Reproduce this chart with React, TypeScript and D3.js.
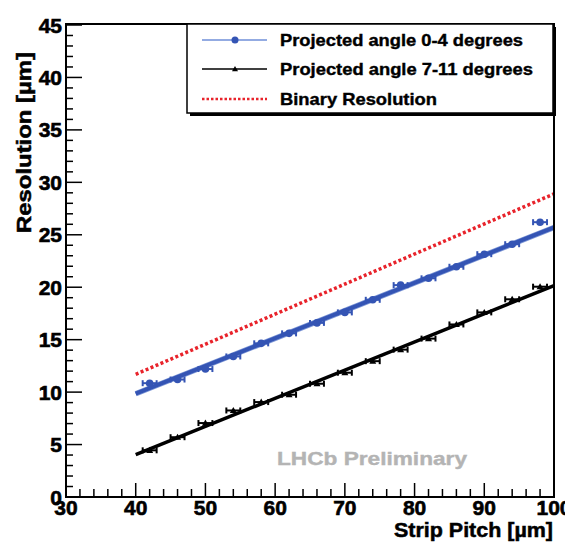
import React from "react";
import * as d3 from "d3";

const W = 565;
const H = 546;

// Strip pitch [µm] of the measured points
const pitch = [42, 46, 50, 54, 58, 62, 66, 70, 74, 78, 82, 86, 90, 94, 98];
const pitchErr = [1, 1, 1, 1, 1, 1, 1, 1, 1, 1, 1, 1, 1, 1, 1];
// Projected angle 0-4 degrees
const resLow = [10.85, 11.2, 12.2, 13.4, 14.65, 15.6, 16.6, 17.6, 18.8, 20.2, 20.85, 21.95, 23.15, 24.1, 26.2];
// Projected angle 7-11 degrees
const resHigh = [4.45, 5.7, 7.05, 8.25, 9.05, 9.75, 10.8, 11.85, 12.95, 14.05, 15.1, 16.45, 17.6, 18.85, 20.05];
// Fit lines (pitch, resolution)
const fitLowX = [40, 100];
const fitLowY = [9.85, 25.7];
const fitHighX = [40, 100];
const fitHighY = [4.05, 20.15];
// Binary resolution
const binaryX = [40, 100];
const binaryY = [11.7, 28.9];

const xTicks = [30, 40, 50, 60, 70, 80, 90, 100];
const yTicks = [0, 5, 10, 15, 20, 25, 30, 35, 40, 45];
const legendLabels = [
  "Projected angle 0-4 degrees",
  "Projected angle 7-11 degrees",
  "Binary Resolution",
];

const FONT = "'Liberation Sans', Arial, Helvetica, sans-serif";
const BLUE = "#3454b4";
const BLUE_HALO = "#7f98d6";
const RED = "#e8232b";

export default function App() {
  const left = 66, right = 554, top = 25, bottom = 497;
  const x = d3.scaleLinear().domain([30, 100]).range([left, right]);
  const y = d3.scaleLinear().domain([0, 45]).range([bottom, top]);
  const line = d3
    .line<[number, number]>()
    .x((d) => x(d[0]))
    .y((d) => y(d[1]));

  const zip = (a: number[], b: number[]) => a.map((v, i) => [v, b[i]] as [number, number]);

  const yMinor = d3.range(0, 46, 1);
  const xMinor = d3.range(30, 101, 2);

  const errBars = (vals: number[], color: string) =>
    pitch.map((p, i) => {
      const x0 = x(p - pitchErr[i]);
      const x1 = x(p + pitchErr[i]);
      const yy = y(vals[i]);
      return (
        <g key={`e${i}`} stroke={color} strokeWidth={2}>
          <line x1={x0} x2={x1} y1={yy} y2={yy} />
          <line x1={x0} x2={x0} y1={yy - 3} y2={yy + 3} />
          <line x1={x1} x2={x1} y1={yy - 3} y2={yy + 3} />
        </g>
      );
    });

  const tri = (cx: number, cy: number, s: number) =>
    `M${cx},${cy - s} L${cx + s},${cy + s * 0.75} L${cx - s},${cy + s * 0.75} Z`;

  const legX0 = 187, legY0 = 24, legW = 366, legH = 89;
  const rows = [40, 69, 99];

  return (
    <svg
      width={W}
      height={H}
      style={{ position: "absolute", left: 0, top: 0, background: "#fff" }}
      fontFamily={FONT}
      fontWeight="bold"
    >
      <rect x={0} y={0} width={W} height={H} fill="#fff" />

      {/* LHCb Preliminary */}
      <text x={277} y={465} fontSize={19} fill="#b4b4b4" stroke="#b4b4b4" strokeWidth={0.4} textLength={190} lengthAdjust="spacingAndGlyphs">
        LHCb Preliminary
      </text>

      {/* Binary resolution */}
      <path d={line(zip(binaryX, binaryY)) || ""} fill="none" stroke={RED} strokeWidth={3.5} strokeDasharray="3,2.4" />

      {/* fits */}
      <path d={line(zip(fitLowX, fitLowY)) || ""} fill="none" stroke={BLUE_HALO} strokeWidth={5.5} />
      <path d={line(zip(fitLowX, fitLowY)) || ""} fill="none" stroke={BLUE} strokeWidth={4} />
      <path d={line(zip(fitHighX, fitHighY)) || ""} fill="none" stroke="#000" strokeWidth={3.5} />

      {/* points */}
      {errBars(resLow, BLUE)}
      {pitch.map((p, i) => (
        <circle key={`b${i}`} cx={x(p)} cy={y(resLow[i])} r={3.8} fill={BLUE} />
      ))}
      {errBars(resHigh, "#000")}
      {pitch.map((p, i) => (
        <path key={`t${i}`} d={tri(x(p), y(resHigh[i]), 3.5)} fill="#000" />
      ))}

      {/* frame */}
      <rect x={left} y={top - 1} width={right - left} height={bottom - top + 1} fill="none" stroke="#000" strokeWidth={2} />

      {/* y ticks */}
      {yMinor.map((v) => (
        <line key={`ym${v}`} x1={left} x2={left + (v % 5 === 0 ? 16 : 7)} y1={y(v)} y2={y(v)} stroke="#000" strokeWidth={1.5} />
      ))}
      {yTicks.map((v) => (
        <text key={`yl${v}`} x={62} y={y(v) + 7.5} fontSize={21} textAnchor="end" fill="#000" stroke="#000" strokeWidth={0.6}>
          {v}
        </text>
      ))}

      {/* x ticks */}
      {xMinor.map((v) => (
        <line key={`xm${v}`} x1={x(v)} x2={x(v)} y1={bottom} y2={bottom - (v % 10 === 0 ? 14 : 8)} stroke="#000" strokeWidth={1.5} />
      ))}
      {xTicks.map((v) => (
        <text key={`xl${v}`} x={x(v)} y={515} fontSize={21} textAnchor="middle" fill="#000" stroke="#000" strokeWidth={0.6}>
          {v}
        </text>
      ))}

      {/* axis titles */}
      <text x={553} y={537} fontSize={20} textAnchor="end" fill="#000" stroke="#000" strokeWidth={0.5} textLength={159} lengthAdjust="spacingAndGlyphs">
        Strip Pitch [µm]
      </text>
      <text
        transform={`translate(31,52) rotate(-90)`}
        x={0}
        y={0}
        fontSize={20}
        textAnchor="end"
        fill="#000"
        stroke="#000"
        strokeWidth={0.5}
        textLength={181}
        lengthAdjust="spacingAndGlyphs"
      >
        Resolution [µm]
      </text>

      {/* legend */}
      <rect x={legX0 + 3} y={legY0 + 3} width={legW} height={legH} fill="#000" />
      <rect x={legX0} y={legY0} width={legW} height={legH} fill="#fff" stroke="#000" strokeWidth={1.5} />
      <line x1={202} x2={267} y1={rows[0]} y2={rows[0]} stroke="#6f8fd8" strokeWidth={1.5} />
      <circle cx={235} cy={rows[0]} r={3.5} fill={BLUE} />
      <line x1={202} x2={267} y1={rows[1]} y2={rows[1]} stroke="#000" strokeWidth={1.5} />
      <path d={tri(235, rows[1], 3)} fill="#000" />
      <line x1={202} x2={267} y1={rows[2]} y2={rows[2]} stroke={RED} strokeWidth={2.5} strokeDasharray="2.5,2" />
      {legendLabels.map((t, i) => (
        <text
          key={t}
          x={280}
          y={rows[i] + 6}
          fontSize={17}
          fill="#000"
          stroke="#000"
          strokeWidth={0.4}
          textLength={[243, 253, 157][i]}
          lengthAdjust="spacingAndGlyphs"
        >
          {t}
        </text>
      ))}
    </svg>
  );
}
